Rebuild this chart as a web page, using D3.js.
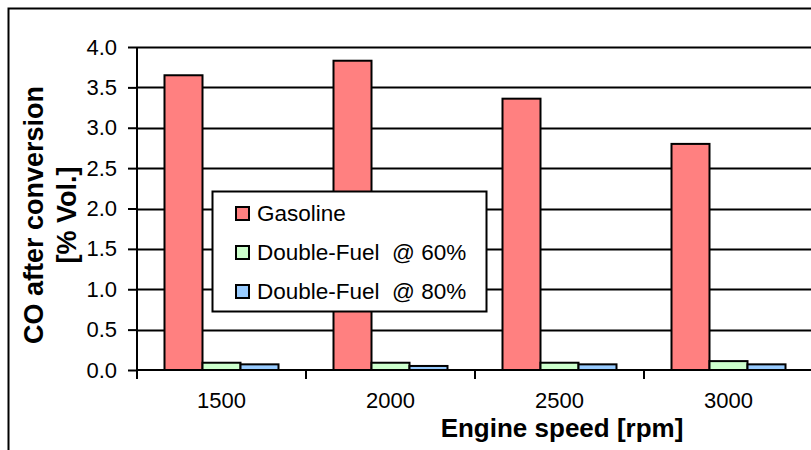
<!DOCTYPE html>
<html>
<head>
<meta charset="utf-8">
<script src="https://cdn.jsdelivr.net/npm/d3@7"></script>
<style>
  html, body { margin: 0; padding: 0; background: #fff; }
  svg { display: block; font-family: "Liberation Sans", Arial, sans-serif; }
</style>
</head>
<body>
<svg id="chart" width="811" height="450"></svg>
<script>
// CO concentration after conversion, by engine speed and fuel
const speeds = ["1500", "2000", "2500", "3000"];
const seriesNames = ["Gasoline", "Double-Fuel  @ 60%", "Double-Fuel  @ 80%"];
const gasoline = [3.65, 3.83, 3.36, 2.80];
const doubleFuel60 = [0.09, 0.09, 0.09, 0.11];
const doubleFuel80 = [0.07, 0.05, 0.07, 0.07];
const yTicks = [0, 0.5, 1, 1.5, 2, 2.5, 3, 3.5, 4];
const colors = ["#FF8080", "#CCFFCC", "#99CCFF"];

const values = [gasoline, doubleFuel60, doubleFuel80];

const svg = d3.select("#chart");
const W = 811, H = 450;
const plot = { left: 137, top: 47, bottom: 370 };
// the category axis runs one band past the right edge of the page
const x = d3.scaleBand().domain(speeds.concat(["3500"])).range([plot.left, plot.left + 169 * 5]).padding(0);
const xs = d3.scaleBand().domain(d3.range(3)).range([27.5, 141.5]).padding(0);
const y = d3.scaleLinear().domain([0, 4]).range([plot.bottom, plot.top]);

// outer frame
svg.append("rect")
  .attr("x", 8.5).attr("y", 8.5)
  .attr("width", W + 20).attr("height", H + 20)
  .attr("fill", "none").attr("stroke", "#000").attr("stroke-width", 2);

// horizontal gridlines
svg.append("g")
  .selectAll("line")
  .data(yTicks.filter(d => d > 0))
  .join("line")
  .attr("x1", plot.left).attr("x2", W)
  .attr("y1", d => Math.round(y(d)) + 0.5).attr("y2", d => Math.round(y(d)) + 0.5)
  .attr("stroke", "#000").attr("stroke-width", 2);

// bars
const groups = svg.append("g")
  .selectAll("g")
  .data(speeds)
  .join("g")
  .attr("transform", d => `translate(${x(d)},0)`);

groups.selectAll("rect")
  .data((d, i) => values.map((s, k) => ({ k, v: s[i] })))
  .join("rect")
  .attr("x", d => xs(d.k))
  .attr("width", xs.bandwidth())
  .attr("y", d => y(d.v))
  .attr("height", d => y(0) - y(d.v))
  .attr("fill", d => colors[d.k])
  .attr("stroke", "#000").attr("stroke-width", 2);

// y axis
const yAxis = svg.append("g")
  .attr("transform", `translate(${plot.left},0)`)
  .call(d3.axisLeft(y).tickValues(yTicks).tickFormat(d3.format(".1f")).tickSize(9).tickPadding(11));
yAxis.select(".domain").attr("stroke-width", 2).attr("d", `M0,${plot.top}V${plot.bottom}`);
yAxis.selectAll(".tick line").attr("stroke-width", 2);
yAxis.selectAll("text").attr("font-size", 22).attr("fill", "#000");

// x axis: ticks at the category boundaries
const xAxis = svg.append("g").attr("transform", `translate(0,${plot.bottom})`);
xAxis.append("line")
  .attr("x1", plot.left).attr("x2", W).attr("y1", 0).attr("y2", 0)
  .attr("stroke", "#000").attr("stroke-width", 2);
xAxis.selectAll("line.tk")
  .data(speeds.concat(["3500"]))
  .join("line").attr("class", "tk")
  .attr("x1", d => x(d)).attr("x2", d => x(d))
  .attr("y1", 0).attr("y2", 9)
  .attr("stroke", "#000").attr("stroke-width", 2);
xAxis.selectAll("text")
  .data(speeds)
  .join("text")
  .attr("x", d => x(d) + x.bandwidth() / 2)
  .attr("y", 38)
  .attr("text-anchor", "middle")
  .attr("font-size", 22)
  .text(d => d);

// axis titles
svg.append("text")
  .attr("x", 562).attr("y", 436.5)
  .attr("text-anchor", "middle")
  .attr("font-size", 26).attr("font-weight", "bold")
  .text("Engine speed [rpm]");

const yt = svg.append("text")
  .attr("transform", "translate(0,215) rotate(-90)")
  .attr("text-anchor", "middle")
  .attr("font-size", 27).attr("font-weight", "bold");
yt.append("tspan").attr("x", 0).attr("y", 43).text("CO after conversion");
yt.append("tspan").attr("x", 0).attr("y", 76).text("[% Vol.]");

// legend
const lg = svg.append("g");
lg.append("rect")
  .attr("x", 212.5).attr("y", 191.5).attr("width", 274).attr("height", 120)
  .attr("fill", "#fff").attr("stroke", "#000").attr("stroke-width", 2);
const rows = lg.selectAll("g.row")
  .data(seriesNames)
  .join("g").attr("class", "row")
  .attr("transform", (d, i) => `translate(236,${213 + i * 39})`);
rows.append("rect")
  .attr("x", 0).attr("y", -6).attr("width", 13).attr("height", 13)
  .attr("fill", (d, i) => colors[i])
  .attr("stroke", "#000").attr("stroke-width", 2);
rows.append("text")
  .attr("x", 21).attr("y", 8)
  .attr("font-size", 22.5)
  .attr("xml:space", "preserve")
  .style("white-space", "pre")
  .text(d => d);
</script>
</body>
</html>
